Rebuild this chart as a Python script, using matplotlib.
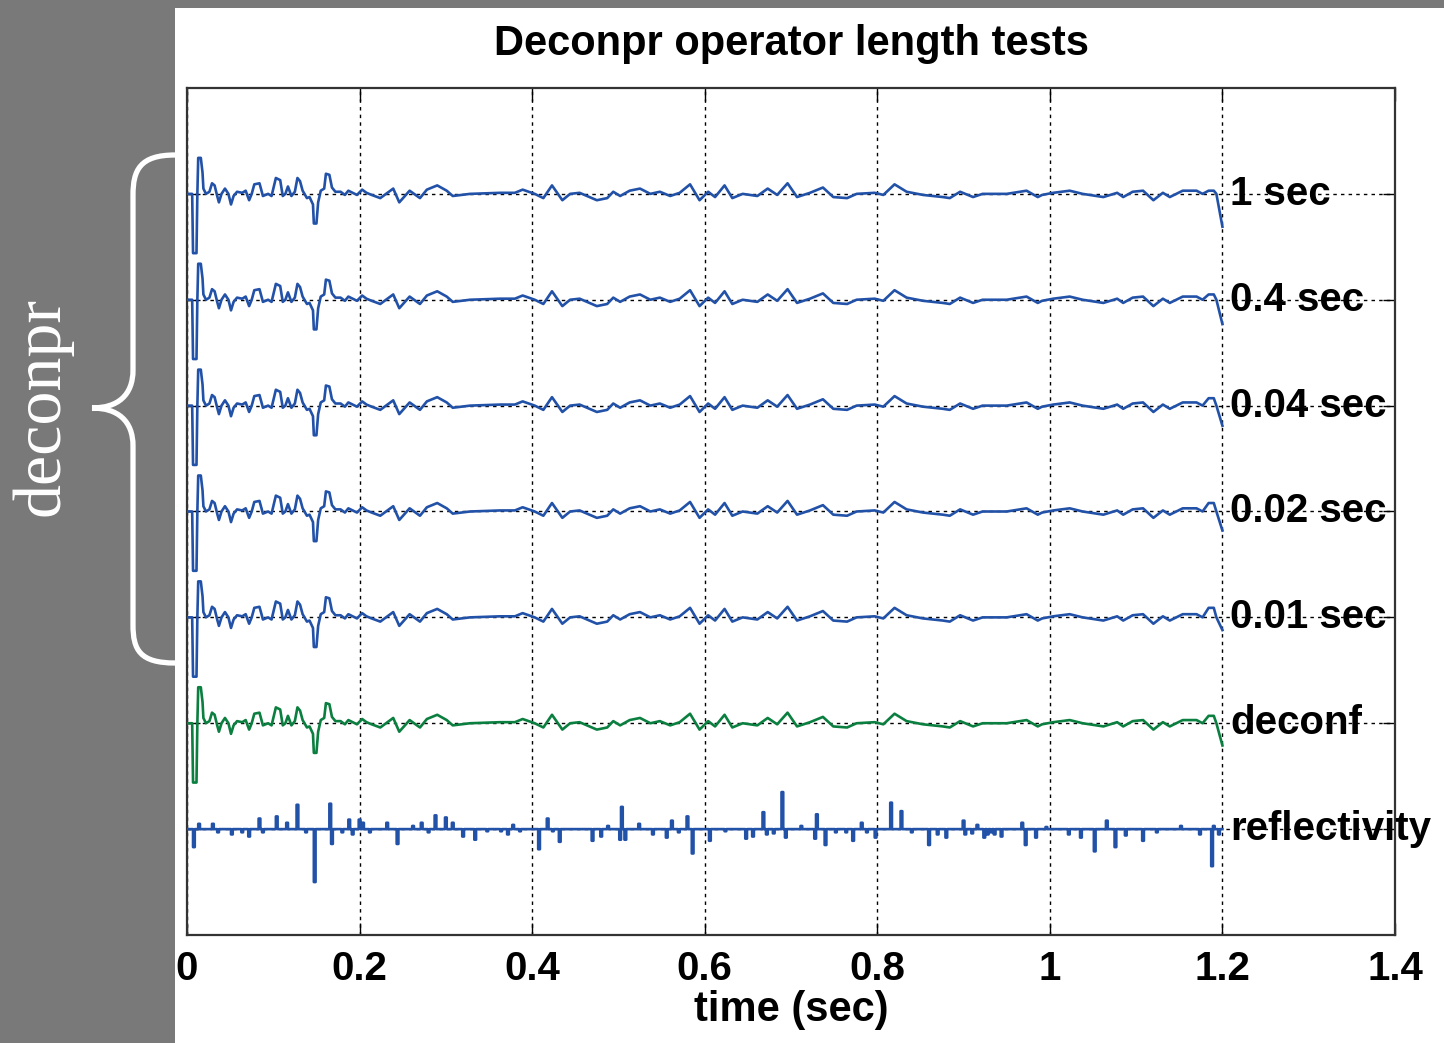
import numpy as np
import matplotlib
matplotlib.use("Agg")
import matplotlib.pyplot as plt
from matplotlib.patches import Rectangle, PathPatch
from matplotlib.path import Path

plt.rcParams['font.family'] = ['Liberation Sans', 'DejaVu Sans']

decon_t = [0.000, 0.006, 0.007, 0.011, 0.012, 0.013, 0.016, 0.018, 0.019, 0.022,
           0.026, 0.029, 0.032, 0.035, 0.037, 0.040, 0.044, 0.048, 0.051, 0.054,
           0.058, 0.064, 0.068, 0.072, 0.075, 0.078, 0.084, 0.088, 0.094, 0.098,
           0.103, 0.108, 0.111, 0.114, 0.117, 0.121, 0.125, 0.128, 0.131, 0.134,
           0.139, 0.142, 0.146, 0.147, 0.150, 0.152, 0.155, 0.159, 0.161, 0.165,
           0.168, 0.172, 0.178, 0.183, 0.187, 0.192, 0.197, 0.203, 0.208, 0.214,
           0.224, 0.239, 0.246, 0.258, 0.270, 0.278, 0.290, 0.301, 0.308, 0.328,
           0.363, 0.380, 0.389, 0.403, 0.413, 0.423, 0.435, 0.444, 0.455, 0.475,
           0.487, 0.494, 0.502, 0.513, 0.525, 0.537, 0.548, 0.560, 0.571, 0.583,
           0.594, 0.604, 0.612, 0.623, 0.632, 0.644, 0.661, 0.673, 0.684, 0.696,
           0.707, 0.722, 0.737, 0.749, 0.765, 0.776, 0.797, 0.807, 0.820, 0.834,
           0.853, 0.876, 0.884, 0.896, 0.911, 0.922, 0.950, 0.973, 0.986, 0.991,
           1.004, 1.023, 1.038, 1.062, 1.078, 1.085, 1.096, 1.108, 1.120, 1.131,
           1.139, 1.154, 1.170, 1.177]
decon_a = [0, 0, -56, -56, 0, 34, 34, 20, 5, 0,
           2, 10, 8, -2, -8, 0, 5, 0, -10, -2,
           2, 1, 3, -6, 0, 9, 10, -2, 0, -2,
           15, 13, -2, 0, 7, -2, 2, 15, 12, 3,
           -4, -3, -10, -28, -28, -8, 3, 5, 19, 18,
           6, 2, 2, -1, 3, 1, -1, 4, 1, -1,
           -4, 5, -8, 3, -4, 4, 8, 3, -2, 0,
           1, 1, 4, 0, -4, 8, -6, 0, 1, -6,
           -4, 2, -2, 3, 5, 0, 2, -2, 1, 9,
           -6, 2, -3, 8, -4, 0, -2, 5, -1, 10,
           -3, 1, 6, -3, -4, 0, 1, -1, 9, 2,
           -1, -3, -4, 2, -3, 0, 0, 3, -3, -1,
           1, 3, 0, -3, 1, -3, 2, 3, -6, 1,
           -3, 3, 3, 0]

labels = ['1 sec', '0.4 sec', '0.04 sec', '0.02 sec', '0.01 sec', 'deconf']
tail_bump = [3, 5, 7, 8, 9, 7]
end_amp = [-31, -23, -19, -18, -12, -21]
colors = ['#2251a8'] * 5 + ['#0b7f3f']

# reflectivity spikes (time s, amplitude %)
refl_t = [0.008, 0.014, 0.030, 0.037, 0.053, 0.065, 0.073, 0.085, 0.088, 0.104,
          0.117, 0.129, 0.138, 0.148, 0.166, 0.168, 0.180, 0.189, 0.192, 0.200,
          0.204, 0.212, 0.232, 0.245, 0.262, 0.273, 0.279, 0.289, 0.299, 0.307,
          0.320, 0.334, 0.348, 0.363, 0.371, 0.378, 0.386, 0.409, 0.418, 0.424,
          0.432, 0.471, 0.481, 0.487, 0.502, 0.505, 0.508, 0.525, 0.540, 0.556,
          0.563, 0.571, 0.579, 0.586, 0.606, 0.623, 0.649, 0.656, 0.668, 0.673,
          0.679, 0.691, 0.695, 0.713, 0.728, 0.730, 0.739, 0.751, 0.763, 0.771,
          0.782, 0.788, 0.798, 0.816, 0.829, 0.840, 0.860, 0.870, 0.880, 0.899,
          0.902, 0.910, 0.917, 0.924, 0.928, 0.933, 0.936, 0.944, 0.969, 0.971,
          0.985, 0.997, 1.023, 1.037, 1.052, 1.066, 1.075, 1.087, 1.108, 1.125,
          1.151, 1.174, 1.188, 1.190, 1.195]
refl_a = [-17, 5, 5, -3, -5, -3, -7, 10, -3, 12,
          6, 23, -3, -50, 24, -14, -3, 9, -5, 9,
          6, -3, 6, -14, 3, 6, -3, 13, 11, 6,
          -7, -10, -2, -2, -5, 4, -2, -19, 10, -2,
          -12, -11, -7, 3, -10, 21, -10, 5, -5, -8,
          8, -3, 12, -23, -11, -2, -9, -7, 16, -5,
          -4, 35, -8, 3, -9, 14, -15, -3, -3, -11,
          6, -3, -8, 25, 17, -3, -15, -5, -8, 8,
          -5, -4, 4, -8, -5, -3, -5, -7, 6, -15,
          -8, 2, -5, -8, -21, 8, -17, -6, -11, -3,
          3, -5, -35, 3, -5]

fig = plt.figure(figsize=(14.44, 10.43), dpi=100, facecolor='#797979')
fig.patches.append(Rectangle((175 / 1444, 0), 1 - 175 / 1444, 1 - 8 / 1043,
                             transform=fig.transFigure, facecolor='white',
                             edgecolor='none', zorder=-5))

ax = fig.add_axes([187 / 1444, 1 - 935 / 1043, 1208 / 1444, 847 / 1043])
ax.set_xlim(0, 1.4)
ax.set_ylim(0, 8)

n = len(labels)
for i in range(n):
    base = n + 1 - i
    t = decon_t + [1.184, 1.190, 1.193, 1.200]
    a = decon_a + [tail_bump[i], tail_bump[i], 0, end_amp[i]]
    ax.plot(t, base + np.array(a) / 100.0, color=colors[i], lw=1.9, zorder=3)
    ax.text(1.209, base, labels[i], fontsize=29, fontweight='bold',
            va='center', ha='left', zorder=4)

# reflectivity as a spike series on a 2 ms grid
tg = np.arange(0, 1.2005, 0.002)
rg = np.zeros_like(tg)
for tt, aa in zip(refl_t, refl_a):
    rg[int(round(tt / 0.002))] = aa / 100.0
ax.plot(tg, 1 + rg, color='#2251a8', lw=1.9, drawstyle='steps-mid', zorder=3)
ax.text(1.209, 1, 'reflectivity', fontsize=29, fontweight='bold',
        va='center', ha='left', zorder=4)

ax.set_xticks(np.arange(0, 1.41, 0.2))
ax.set_xticklabels(['0', '0.2', '0.4', '0.6', '0.8', '1', '1.2', '1.4'],
                   fontsize=29, fontweight='bold')
ax.set_yticks(range(1, 8))
ax.set_yticklabels([])
ax.tick_params(direction='in', length=9, width=1, top=True, right=True, pad=11)
ax.grid(True, color='black', linestyle=(0, (2.5, 3)), lw=1)
for s in ax.spines.values():
    s.set_linewidth(1.6)
    s.set_color('#333333')

ax.set_title('Deconpr operator length tests', fontsize=30, fontweight='bold', pad=24)
ax.set_xlabel('time (sec)', fontsize=30, fontweight='bold', labelpad=1)

# brace on the grey margin
W, H = 1444.0, 1043.0
pts = [(175, 155), (140, 155), (133, 170), (133, 195),
       (133, 370),
       (133, 395), (118, 408), (92, 408),
       (118, 408), (133, 421), (133, 446),
       (133, 625),
       (133, 650), (140, 663), (175, 663)]
codes = [Path.MOVETO, Path.CURVE4, Path.CURVE4, Path.CURVE4,
         Path.LINETO,
         Path.CURVE4, Path.CURVE4, Path.CURVE4,
         Path.CURVE4, Path.CURVE4, Path.CURVE4,
         Path.LINETO,
         Path.CURVE4, Path.CURVE4, Path.CURVE4]
brace = Path([(x / W, 1 - y / H) for x, y in pts], codes)
fig.patches.append(PathPatch(brace, transform=fig.transFigure, facecolor='none',
                             edgecolor='white', lw=3.8, capstyle='round'))
fig.text(42 / W, 1 - 406 / H, 'deconpr', rotation=90, color='white',
         fontsize=49, family='Liberation Serif', ha='center', va='center')

fig.savefig('out.png', dpi=100, facecolor=fig.get_facecolor())
